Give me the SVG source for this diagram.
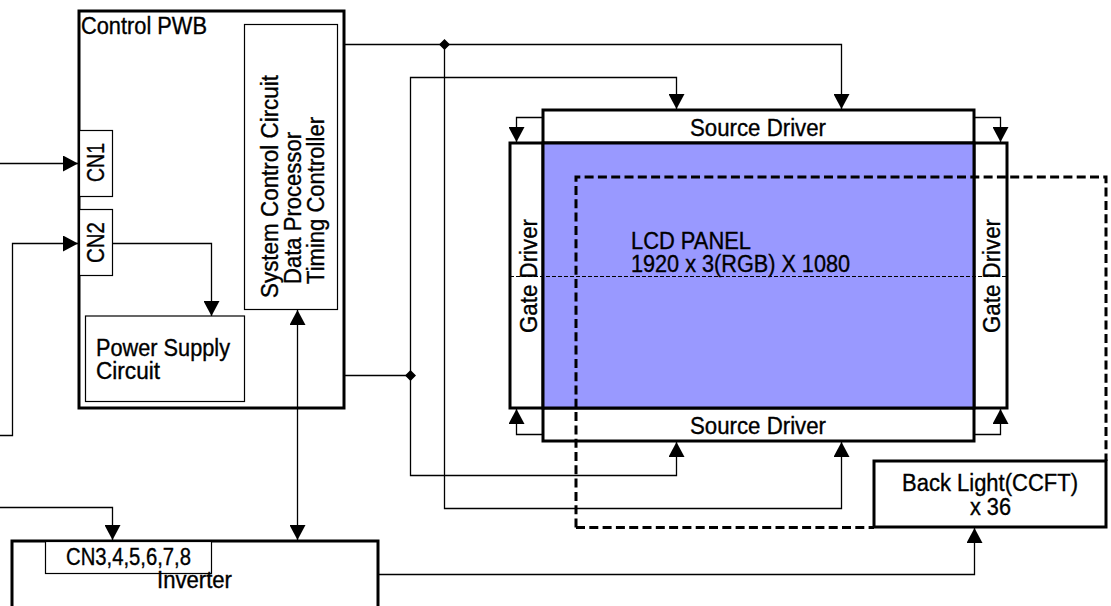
<svg xmlns="http://www.w3.org/2000/svg" width="1111" height="606" viewBox="0 0 1111 606">
<style>
.b{fill:#fff;stroke:#000;stroke-width:3}
.t{fill:#fff;stroke:#000;stroke-width:1.200}
.c{fill:none;stroke:#000;stroke-width:1.300}
text{font-family:"Liberation Sans",Arial,sans-serif;font-size:23px;fill:#000;stroke:#000;stroke-width:.35px}
</style>
<defs>
<marker id="a" markerUnits="userSpaceOnUse" markerWidth="16" markerHeight="16" refX="15" refY="8" orient="auto-start-reverse"><path d="M0 0L15 8L0 16z" fill="#000"/></marker>
</defs>
<g id="control-pwb">
<rect class="b" x="79" y="11" width="265" height="397"/>
<text x="81" y="34" textLength="126" lengthAdjust="spacingAndGlyphs">Control PWB</text>
</g>
<g id="system-control">
<rect class="t" x="244.500" y="24.500" width="93" height="285"/>
<text transform="translate(277.500,298) rotate(-90)" textLength="223" lengthAdjust="spacingAndGlyphs">System Control Circuit</text>
<text transform="translate(300.500,284) rotate(-90)" textLength="152" lengthAdjust="spacingAndGlyphs">Data Processor</text>
<text transform="translate(323.500,284) rotate(-90)" textLength="167" lengthAdjust="spacingAndGlyphs">Timing Controller</text>
</g>
<g id="cn1"><rect class="t" x="79.500" y="130.500" width="33" height="66"/><text transform="translate(104,182) rotate(-90)" textLength="39" lengthAdjust="spacingAndGlyphs">CN1</text></g>
<g id="cn2"><rect class="t" x="79.500" y="209.500" width="33" height="66"/><text transform="translate(104,263) rotate(-90)" textLength="41" lengthAdjust="spacingAndGlyphs">CN2</text></g>
<g id="power-supply"><rect class="t" x="85.500" y="316" width="159" height="85.500"/><text x="96" y="356" textLength="134" lengthAdjust="spacingAndGlyphs">Power Supply</text><text x="96" y="379" textLength="64" lengthAdjust="spacingAndGlyphs">Circuit</text></g>
<g id="inverter"><rect class="b" x="12" y="541" width="366" height="70"/><rect class="t" x="45.500" y="541.500" width="166" height="32"/><text x="66" y="565" textLength="125" lengthAdjust="spacingAndGlyphs">CN3,4,5,6,7,8</text><text x="157" y="588" textLength="75" lengthAdjust="spacingAndGlyphs">Inverter</text></g>
<g id="source-top"><rect class="b" x="543" y="110" width="431" height="33"/><text x="690" y="136" textLength="136" lengthAdjust="spacingAndGlyphs">Source Driver</text></g>
<g id="source-bottom"><rect class="b" x="543" y="408" width="431" height="33"/><text x="690" y="434" textLength="136" lengthAdjust="spacingAndGlyphs">Source Driver</text></g>
<g id="gate-left"><rect class="b" x="510" y="143" width="33" height="265"/><text transform="translate(536.500,333) rotate(-90)" textLength="114" lengthAdjust="spacingAndGlyphs">Gate Driver</text></g>
<g id="gate-right"><rect class="b" x="974" y="143" width="33" height="265"/><text transform="translate(1000,333) rotate(-90)" textLength="114" lengthAdjust="spacingAndGlyphs">Gate Driver</text></g>
<g id="lcd-panel"><rect x="543" y="143" width="431" height="265" fill="#9999ff" stroke="#000" stroke-width="3"/><text x="631" y="249" textLength="120" lengthAdjust="spacingAndGlyphs">LCD PANEL</text><text x="631" y="272" textLength="219" lengthAdjust="spacingAndGlyphs">1920 x 3(RGB) X 1080</text></g>
<g id="back-light"><rect class="b" x="874" y="461" width="232" height="66"/><text x="902" y="491" textLength="176" lengthAdjust="spacingAndGlyphs">Back Light(CCFT)</text><text x="970" y="515" textLength="41" lengthAdjust="spacingAndGlyphs">x 36</text></g>
<g id="connectors">
<path d="M576 527.500V177H1106V461M576 527.500H874" fill="none" stroke="#000" stroke-width="3" stroke-dasharray="9 4.300"/>
<path d="M510 276.500H1007" fill="none" stroke="#000" stroke-width="1.200" stroke-dasharray="4 2"/>
<path class="c" d="M0 163.500H78" marker-end="url(#a)"/>
<path class="c" d="M0 435.500H12.500V243.500H78" marker-end="url(#a)"/>
<path class="c" d="M112 243.500H211.500V316" marker-end="url(#a)"/>
<path class="c" d="M0 507.500H112.500V540" marker-end="url(#a)"/>
<path class="c" d="M297.500 310V540" marker-start="url(#a)" marker-end="url(#a)"/>
<path class="c" d="M345 44.500H841.500V109" marker-end="url(#a)"/>
<path class="c" d="M444.500 44.500V508.500H841.500V442" marker-end="url(#a)"/>
<path class="c" d="M345 375.500H410.500"/>
<path class="c" d="M410.500 375.500V77.500H676.500V109" marker-end="url(#a)"/>
<path class="c" d="M410.500 375.500V475.500H676.500V442" marker-end="url(#a)"/>
<path class="c" d="M378 574.500H974.500V528" marker-end="url(#a)"/>
<path class="c" d="M542 117.500H516.500V142" marker-end="url(#a)"/>
<path class="c" d="M975 117.500H1000.500V142" marker-end="url(#a)"/>
<path class="c" d="M542 434.500H516.500V409" marker-end="url(#a)"/>
<path class="c" d="M975 434.500H1000.500V409" marker-end="url(#a)"/>
<path d="M444.500 39L450 44.500L444.500 50L439 44.500zM410.500 370L416 375.500L410.500 381L405 375.500z" fill="#000"/>
</g>
</svg>
